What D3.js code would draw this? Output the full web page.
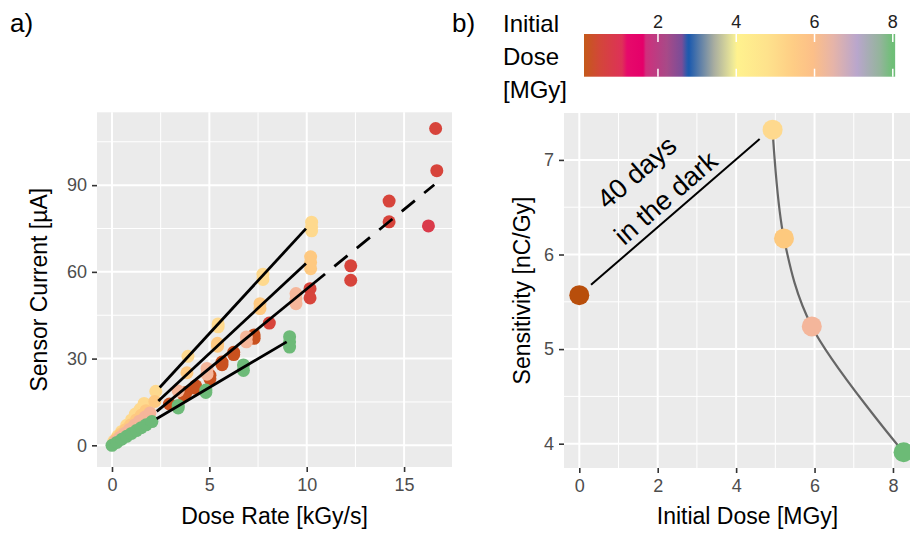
<!DOCTYPE html>
<html>
<head>
<meta charset="utf-8">
<script src="https://cdnjs.cloudflare.com/ajax/libs/d3/7.8.5/d3.min.js"></script>
<style>
body { margin: 0; background: #fff; }
svg { display: block; font-family: "Liberation Sans", Arial, sans-serif; }
.tickLabel { fill: #4d4d4d; font-size: 18px; }
.axisTitle { fill: #000; font-size: 23px; }
.panelTag { fill: #000; font-size: 26px; }
</style>
</head>
<body>
<div id="chart"></div>
<script>
// panel a: sensor current vs dose rate, one series per initial dose
var lightX = [0.1, 0.3, 0.5, 0.75, 1.0, 1.2, 1.45, 1.65, 2.25, 3.9, 5.45, 5.45, 7.75, 7.75, 10.25, 10.25, 10.25];
var lightY = [1.5, 3.2, 4.8, 6.9, 8.8, 10.8, 12.5, 14.5, 18.7, 30.8, 42, 41, 59.2, 57.4, 77.2, 75.6, 74.2];

var orangeX = [0.2, 0.45, 0.7, 0.95, 1.25, 1.5, 1.75, 2.2, 3.85, 5.42, 5.42, 7.6, 7.6, 10.2, 10.2, 10.2];
var orangeY = [2.0, 3.8, 5.4, 7.0, 8.8, 10.4, 12.0, 15.2, 25.1, 35.3, 34.3, 49.0, 47.3, 65.2, 63.2, 61.1];

var brownX = [2.95, 3.7, 3.8, 4.25, 4.3, 5.03, 5.03, 5.65, 5.65, 6.25, 6.25, 7.3, 7.3];
var brownY = [14.3, 17.3, 18.3, 19.8, 20.6, 24.2, 23.0, 28.8, 27.9, 32.2, 31.4, 38.2, 37.0];

var salmonX = [0.15, 0.4, 0.65, 0.9, 1.15, 1.4, 1.7, 1.95, 3.4, 4.88, 4.88, 6.9, 6.9, 9.45, 9.45, 9.45];
var salmonY = [1.2, 2.7, 4.1, 5.5, 6.9, 8.3, 9.8, 11.2, 18.8, 26.6, 24.6, 37.5, 35.8, 52.5, 50.7, 49.0];

var redX = [8.08, 10.17, 10.17, 12.26, 12.26, 14.23, 14.23, 16.62, 16.68];
var redY = [42.3, 54.2, 51.0, 62.1, 57.1, 84.5, 77.3, 109.6, 95.0];

var crimsonX = [16.25];
var crimsonY = [75.9];

var greenX = [0, 0.25, 0.5, 0.75, 1.0, 1.25, 1.5, 1.75, 2.05, 3.4, 3.4, 4.82, 4.82, 6.75, 6.75, 9.12, 9.12, 9.12];
var greenY = [0, 1.0, 2.1, 3.1, 4.1, 5.1, 6.1, 7.1, 8.2, 13.8, 12.9, 19.1, 18.3, 27.8, 25.9, 37.6, 35.8, 34.0];

var seriesX = [lightX, orangeX, brownX, salmonX, redX, crimsonX, greenX];
var seriesY = [lightY, orangeY, brownY, salmonY, redY, crimsonY, greenY];
var seriesColors = ["#fed98e", "#fec981", "#c9511f", "#f5b69a", "#d7443b", "#da3b4b", "#6dba78"];

// linear fits (current = slope * rate + intercept)
var fitSlope = [7.32, 6.28, 5.5, 3.98];
var fitIntercept = [2.06, 0.35, -0.9, 0.09];
var fitFrom = [2.45, 2.38, 2.3, 2.29];
var fitTo = [9.96, 9.96, 10.94, 8.97];
var fitDashedTo = [null, null, 16.55, null];

var xTicksA = [0, 5, 10, 15];
var yTicksA = [0, 30, 60, 90];

// panel b: sensitivity vs initial dose
var initialDose = [0, 4.93, 5.22, 5.93, 8.27];
var sensitivity = [5.57, 7.32, 6.17, 5.24, 3.91];
var doseColors = ["#b84e0b", "#fed98e", "#fdc97e", "#f4b69b", "#6cbb76"];

var xTicksB = [0, 2, 4, 6, 8];
var yTicksB = [4, 5, 6, 7];

// colour bar stops (dose in MGy)
var cbDose = [0.11, 0.52, 1.08, 1.21, 1.62, 1.69, 2.23, 2.61, 2.74, 2.79, 3.07, 3.43, 3.92, 4.02, 4.79, 5.45, 5.96, 6.47, 7.09, 7.67, 7.98, 8.06];
var cbColor = ["#c45a1a", "#d3463a", "#de3158", "#e60a6a", "#e5006a", "#d02f7c", "#a74a88", "#7a4d98", "#2a5aac", "#1c5aae", "#5c7ea8", "#a8ada0", "#eee997", "#fff28e", "#fee28c", "#fecd85", "#fcbf88", "#e6b4a8", "#b9a6cc", "#94b49c", "#6fbf77", "#6ebd78"];
var cbTicks = [2, 4, 6, 8];

var width = 910, height = 534;

var svg = d3.select("#chart").append("svg")
	.attr("width", width)
	.attr("height", height);

svg.append("rect").attr("width", width).attr("height", height).attr("fill", "#fff");

function drawGrid(g, x, y, xMajor, yMajor, xMinor, yMinor) {
	var x0 = x.range()[0], x1 = x.range()[1], y0 = y.range()[0], y1 = y.range()[1];
	g.append("rect")
		.attr("x", x0).attr("y", y1)
		.attr("width", x1 - x0).attr("height", y0 - y1)
		.attr("fill", "#ebebeb");
	g.selectAll(".minorX").data(xMinor).enter().append("line")
		.attr("x1", function(d){ return x(d); }).attr("x2", function(d){ return x(d); })
		.attr("y1", y0).attr("y2", y1)
		.attr("stroke", "#fff").attr("stroke-width", 1);
	g.selectAll(".minorY").data(yMinor).enter().append("line")
		.attr("y1", function(d){ return y(d); }).attr("y2", function(d){ return y(d); })
		.attr("x1", x0).attr("x2", x1)
		.attr("stroke", "#fff").attr("stroke-width", 1);
	g.selectAll(".majorX").data(xMajor).enter().append("line")
		.attr("x1", function(d){ return x(d); }).attr("x2", function(d){ return x(d); })
		.attr("y1", y0).attr("y2", y1)
		.attr("stroke", "#fff").attr("stroke-width", 2);
	g.selectAll(".majorY").data(yMajor).enter().append("line")
		.attr("y1", function(d){ return y(d); }).attr("y2", function(d){ return y(d); })
		.attr("x1", x0).attr("x2", x1)
		.attr("stroke", "#fff").attr("stroke-width", 2);
}

function drawAxes(g, x, y, xTicks, yTicks) {
	var xAxis = g.append("g")
		.attr("transform", "translate(0," + y.range()[0] + ")")
		.call(d3.axisBottom(x).tickValues(xTicks).tickSize(5).tickPadding(6).tickFormat(d3.format("d")));
	var yAxis = g.append("g")
		.attr("transform", "translate(" + x.range()[0] + ",0)")
		.call(d3.axisLeft(y).tickValues(yTicks).tickSize(5).tickPadding(5).tickFormat(d3.format("d")));
	[xAxis, yAxis].forEach(function(a){
		a.select(".domain").remove();
		a.selectAll(".tick line").attr("stroke", "#333").attr("stroke-width", 1.6);
		a.selectAll(".tick text").attr("class", "tickLabel").attr("font-family", null).attr("font-size", null).attr("fill", null);
	});
}

// ---------- panel a ----------
var xA = d3.scaleLinear().domain([-0.77, 17.46]).range([97, 452]);
var yA = d3.scaleLinear().domain([-7.5, 115.2]).range([467, 112.3]);

var gA = svg.append("g");
drawGrid(gA, xA, yA, xTicksA, yTicksA, [2.5, 7.5, 12.5], [15, 45, 75, 105]);

seriesX.forEach(function(xs, s){
	var pts = xs.map(function(v, i){ return {x: v, y: seriesY[s][i]}; });
	gA.append("g").selectAll("circle")
		.data(pts)
		.enter().append("circle")
		.attr("cx", function(d){ return xA(d.x); })
		.attr("cy", function(d){ return yA(d.y); })
		.attr("r", 6.5)
		.attr("fill", seriesColors[s]);
});

fitSlope.forEach(function(m, i){
	var b = fitIntercept[i];
	gA.append("line")
		.attr("x1", xA(fitFrom[i])).attr("y1", yA(m * fitFrom[i] + b))
		.attr("x2", xA(fitTo[i])).attr("y2", yA(m * fitTo[i] + b))
		.attr("stroke", "#000").attr("stroke-width", 2.8);
	if (fitDashedTo[i] != null) {
		gA.append("line")
			.attr("x1", xA(fitTo[i])).attr("y1", yA(m * fitTo[i] + b))
			.attr("x2", xA(fitDashedTo[i])).attr("y2", yA(m * fitDashedTo[i] + b))
			.attr("stroke", "#000").attr("stroke-width", 2.8)
			.attr("stroke-dasharray", "0,12,17,0");
	}
});

drawAxes(gA, xA, yA, xTicksA, yTicksA);

gA.append("text").attr("class", "axisTitle")
	.attr("x", (xA.range()[0] + xA.range()[1]) / 2).attr("y", 524)
	.attr("text-anchor", "middle")
	.text("Dose Rate [kGy/s]");
gA.append("text").attr("class", "axisTitle")
	.attr("transform", "translate(47," + (yA.range()[0] + yA.range()[1]) / 2 + ") rotate(-90)")
	.attr("text-anchor", "middle")
	.text("Sensor Current [µA]");
svg.append("text").attr("class", "panelTag").attr("x", 10).attr("y", 32).text("a)");

// ---------- panel b ----------
var xB = d3.scaleLinear().domain([-0.39, 8.97]).range([564, 931]);
var yB = d3.scaleLinear().domain([3.743, 7.496]).range([468, 113]);

var gB = svg.append("g");
drawGrid(gB, xB, yB, xTicksB, yTicksB, [1, 3, 5, 7], [4.5, 5.5, 6.5]);

var pointsB = initialDose.map(function(d, i){ return {x: d, y: sensitivity[i], c: doseColors[i]}; });

// annealing: first sample left in the dark
var anno = {from: [0.3, 5.68], to: [4.6, 7.22]};
gB.append("line")
	.attr("x1", xB(anno.from[0])).attr("y1", yB(anno.from[1]))
	.attr("x2", xB(anno.to[0])).attr("y2", yB(anno.to[1]))
	.attr("stroke", "#000").attr("stroke-width", 2);

gB.append("path")
	.datum(pointsB.slice(1))
	.attr("fill", "none")
	.attr("stroke", "#666")
	.attr("stroke-width", 2.2)
	.attr("d", d3.line().x(function(d){ return xB(d.x); }).y(function(d){ return yB(d.y); }).curve(d3.curveCatmullRom.alpha(0.5)));

gB.selectAll(".pt").data(pointsB).enter().append("circle")
	.attr("cx", function(d){ return xB(d.x); })
	.attr("cy", function(d){ return yB(d.y); })
	.attr("r", 10)
	.attr("fill", function(d){ return d.c; });

var annoText = [{t: "40 days", x: 1.46, y: 6.87}, {t: "in the dark", x: 2.2, y: 6.6}];
gB.selectAll(".anno").data(annoText).enter().append("text")
	.attr("transform", function(d){ return "translate(" + xB(d.x) + "," + yB(d.y) + ") rotate(-41)"; })
	.attr("text-anchor", "middle")
	.attr("dy", "0.35em")
	.attr("font-size", 27)
	.attr("fill", "#000")
	.text(function(d){ return d.t; });

drawAxes(gB, xB, yB, xTicksB, yTicksB);

gB.append("text").attr("class", "axisTitle")
	.attr("x", (xB.range()[0] + xB.range()[1]) / 2).attr("y", 524)
	.attr("text-anchor", "middle")
	.text("Initial Dose [MGy]");
gB.append("text").attr("class", "axisTitle")
	.attr("transform", "translate(530," + (yB.range()[0] + yB.range()[1]) / 2 + ") rotate(-90)")
	.attr("text-anchor", "middle")
	.text("Sensitivity [nC/Gy]");
svg.append("text").attr("class", "panelTag").attr("x", 452).attr("y", 32).text("b)");

// ---------- colour bar legend ----------
var cb = d3.scaleLinear().domain([0, 8]).range([579.7, 892.8]);
var cbTop = 34, cbBottom = 76.7;
var cbLeft = cb(cbDose[0]), cbRight = cb(cbDose[cbDose.length - 1]);

var grad = svg.append("defs").append("linearGradient")
	.attr("id", "doseGrad")
	.attr("x1", "0%").attr("x2", "100%").attr("y1", "0%").attr("y2", "0%");
grad.selectAll("stop").data(cbDose).enter().append("stop")
	.attr("offset", function(d){ return (cb(d) - cbLeft) / (cbRight - cbLeft); })
	.attr("stop-color", function(d, i){ return cbColor[i]; });

svg.append("rect")
	.attr("x", cbLeft).attr("y", cbTop)
	.attr("width", cbRight - cbLeft).attr("height", cbBottom - cbTop)
	.attr("fill", "url(#doseGrad)");

var cbT = svg.append("g").selectAll("g").data(cbTicks).enter().append("g");
cbT.append("line")
	.attr("x1", function(d){ return cb(d); }).attr("x2", function(d){ return cb(d); })
	.attr("y1", cbTop).attr("y2", cbTop + 8)
	.attr("stroke", "#fff").attr("stroke-width", 1.5);
cbT.append("line")
	.attr("x1", function(d){ return cb(d); }).attr("x2", function(d){ return cb(d); })
	.attr("y1", cbBottom - 8).attr("y2", cbBottom)
	.attr("stroke", "#fff").attr("stroke-width", 1.5);
cbT.append("text")
	.attr("x", function(d){ return cb(d); }).attr("y", 28)
	.attr("text-anchor", "middle")
	.attr("font-size", 18)
	.attr("fill", "#222")
	.text(function(d){ return d; });

var legendTitle = ["Initial", "Dose", "[MGy]"];
svg.append("g").selectAll("text").data(legendTitle).enter().append("text")
	.attr("x", 503)
	.attr("y", function(d, i){ return 32 + i * 33; })
	.attr("font-size", 24)
	.attr("fill", "#000")
	.text(function(d){ return d; });
</script>
</body>
</html>
